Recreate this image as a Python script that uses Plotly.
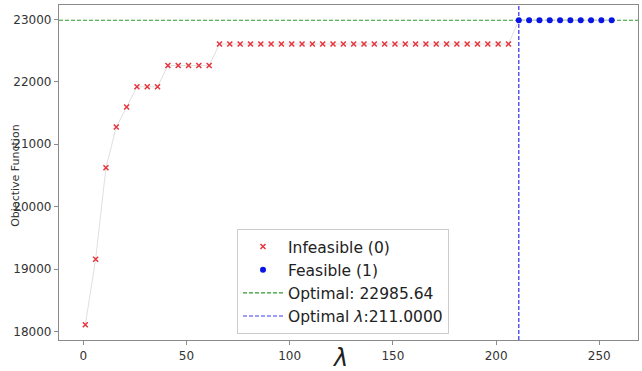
import plotly.graph_objects as go

# ---- data ----
lambdas = [1, 6, 11, 16, 21, 26, 31, 36, 41, 46, 51, 56, 61, 66, 71, 76, 81, 86, 91, 96,
           101, 106, 111, 116, 121, 126, 131, 136, 141, 146, 151, 156, 161, 166, 171, 176,
           181, 186, 191, 196, 201, 206, 211, 216, 221, 226, 231, 236, 241, 246, 251, 256]
objective = [18110, 19160, 20625, 21275, 21595, 21920, 21920, 21920,
             22260, 22260, 22260, 22260, 22260,
             22605, 22605, 22605, 22605, 22605, 22605, 22605, 22605, 22605, 22605,
             22605, 22605, 22605, 22605, 22605, 22605, 22605, 22605, 22605, 22605,
             22605, 22605, 22605, 22605, 22605, 22605, 22605, 22605, 22605,
             22985.64, 22985.64, 22985.64, 22985.64, 22985.64,
             22985.64, 22985.64, 22985.64, 22985.64, 22985.64]
feasible = [0] * 42 + [1] * 10
optimal_value = 22985.64
optimal_lambda = 211.0
x_ticks = [0, 50, 100, 150, 200, 250]
y_ticks = [18000, 19000, 20000, 21000, 22000, 23000]
y_tick_labels = ["18000", "19000", "20000", "21000", "22000", "23000"]

inf_x = [x for x, f in zip(lambdas, feasible) if f == 0]
inf_y = [y for y, f in zip(objective, feasible) if f == 0]
fea_x = [x for x, f in zip(lambdas, feasible) if f == 1]
fea_y = [y for y, f in zip(objective, feasible) if f == 1]

# axis limits with 5% margins (matplotlib-like)
xmin, xmax = min(lambdas), max(lambdas)
ymin, ymax = min(objective), max(objective)
xpad = (xmax - xmin) * 0.05
ypad = (ymax - ymin) * 0.05

fig = go.Figure()
fig.add_trace(go.Scatter(x=lambdas, y=objective, mode="lines",
                         line=dict(color="#e0e0e0", width=1), showlegend=False,
                         hoverinfo="skip"))
fig.add_trace(go.Scatter(x=inf_x, y=inf_y, mode="markers", name="Infeasible (0)",
                         marker=dict(symbol="x-thin", size=5, color="#e8343c",
                                     line=dict(width=1.5, color="#e8343c"))))
fig.add_trace(go.Scatter(x=fea_x, y=fea_y, mode="markers", name="Feasible (1)",
                         marker=dict(symbol="circle", size=6, color="#0a14e6")))
fig.add_trace(go.Scatter(x=[None], y=[None], mode="lines",
                         name=f"Optimal: {optimal_value:.2f}",
                         line=dict(color="#2e9a2e", width=1.2, dash="4px,2px")))
fig.add_trace(go.Scatter(x=[None], y=[None], mode="lines",
                         name=f"Optimal <i>λ</i>:{optimal_lambda:.4f}",
                         line=dict(color="#3c3cf0", width=1.2, dash="4px,2px")))

fig.add_shape(type="line", xref="paper", x0=0, x1=1, yref="y",
              y0=optimal_value, y1=optimal_value, layer="below",
              line=dict(color="#2e9a2e", width=1.2, dash="4px,2px"))
fig.add_shape(type="line", yref="paper", y0=0, y1=1, xref="x",
              x0=optimal_lambda, x1=optimal_lambda, layer="below",
              line=dict(color="#3c3cf0", width=1.3, dash="4px,2px"))

axis_common = dict(showline=True, mirror=True, linecolor="#8a8a8a", linewidth=1.2,
                   ticks="outside", ticklen=4, tickcolor="#8a8a8a",
                   showgrid=False, zeroline=False,
                   tickfont=dict(family="DejaVu Sans", size=12, color="#333333"))

fig.update_layout(
    width=642, height=371,
    margin=dict(l=59, r=4, t=5, b=31),
    paper_bgcolor="white", plot_bgcolor="white",
    font=dict(family="DejaVu Sans", color="#222222"),
    xaxis=dict(range=[xmin - xpad, xmax + xpad], tickvals=x_ticks, **axis_common),
    yaxis=dict(range=[ymin - ypad, ymax + ypad], tickvals=y_ticks,
               ticktext=y_tick_labels, **axis_common),
    legend=dict(x=0.3074, y=0.018, xanchor="left", yanchor="bottom", itemwidth=40,
                bordercolor="#cccccc", borderwidth=1, bgcolor="rgba(255,255,255,0.85)",
                font=dict(family="DejaVu Sans", size=15.5, color="#222222")),
    annotations=[
        dict(text="<i>λ</i>", xref="paper", yref="paper", x=0.485, y=-0.054,
             xanchor="center", yanchor="middle", showarrow=False,
             font=dict(family="DejaVu Sans", size=24, color="#222222")),
        dict(text="Objective Function", xref="paper", yref="paper", x=-0.0743, y=0.49,
             xanchor="center", yanchor="middle", textangle=-90, showarrow=False,
             font=dict(family="DejaVu Sans", size=11, color="#333333")),
    ],
)

fig.write_html("out.html")
